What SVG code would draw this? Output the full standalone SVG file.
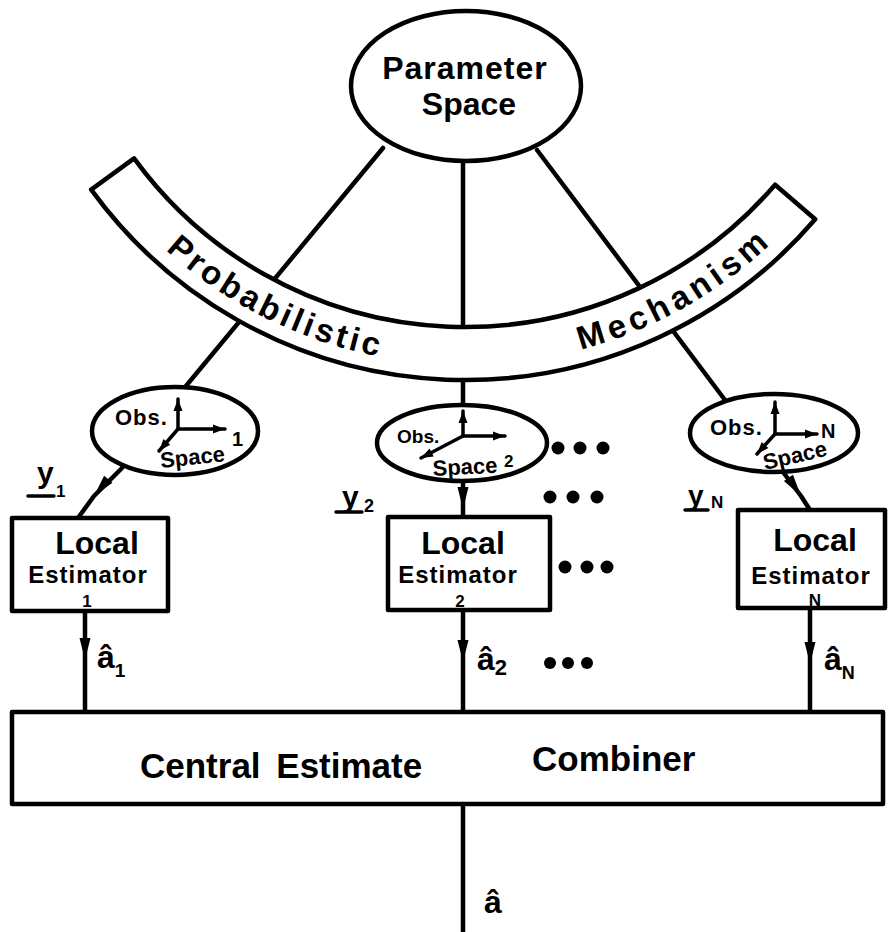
<svg xmlns="http://www.w3.org/2000/svg" width="888" height="932" viewBox="0 0 888 932">
  <style>
    .ln { fill: none; stroke: #000; stroke-width: 4.5; stroke-linecap: round; stroke-linejoin: round; }
    .ax { fill: none; stroke: #000; stroke-width: 3.5; stroke-linecap: round; }
    .shape { fill: #fff; stroke: #000; stroke-width: 4.5; stroke-linejoin: round; }
    .t { font-family: "Liberation Sans", Arial, sans-serif; font-weight: bold; fill: #000; }
    .big { font-size: 32px; }
    .mid { font-size: 24px; letter-spacing: 1px; }
    .sm { font-size: 22px; }
    .num { font-size: 20px; }
    .idx { font-size: 17px; }
    .band { font-size: 33px; }
    .dot { fill: #000; }
  </style>
  <defs>
    <!-- filled wedge placed mid-way along a signal line -->
    <marker id="wedge" markerUnits="userSpaceOnUse" viewBox="-24 -8 26 16" markerWidth="26" markerHeight="16" refX="0" refY="0" orient="auto">
      <path d="M-22,-5.5 L0,0 L-22,5.5 Z" fill="#000"/>
    </marker>
    <!-- small head for the coordinate axes -->
    <marker id="axhead" markerUnits="userSpaceOnUse" viewBox="-14 -6 15 12" markerWidth="15" markerHeight="12" refX="0" refY="0" orient="auto">
      <path d="M-12,-4.5 L0,0 L-12,4.5 Z" fill="#000"/>
    </marker>
    <!-- baseline for the lettering that follows the curved band -->
    <path id="bandBase" d="M77.9,141.5 A447,447 0 0 0 852.1,141.5"/>
  </defs>

  <!-- connectors -->
  <g id="connectors">
    <path class="ln" d="M383,148 L181,392"/>
    <path class="ln" d="M463,160 L463,408"/>
    <path class="ln" d="M537,150 L725,400"/>
    <path class="ln" d="M122,468 L94,496 L78,518" marker-mid="url(#wedge)"/>
    <path class="ln" d="M463,481 L463,509 L463,517" marker-mid="url(#wedge)"/>
    <path class="ln" d="M783,472 L801,496 L810,510" marker-mid="url(#wedge)"/>
    <path class="ln" d="M85,611 L85,660 L85,712" marker-mid="url(#wedge)"/>
    <path class="ln" d="M463,610 L463,662 L463,712" marker-mid="url(#wedge)"/>
    <path class="ln" d="M810,608 L810,664 L810,712" marker-mid="url(#wedge)"/>
    <path class="ln" d="M463,804 L463,932"/>
  </g>

  <!-- parameter space -->
  <g id="parameter-space">
    <ellipse class="shape" cx="466" cy="86" rx="115" ry="75"/>
    <text class="t big" x="465" y="79" text-anchor="middle" letter-spacing="1">Parameter</text>
    <text class="t big" x="469" y="115" text-anchor="middle">Space</text>
  </g>

  <!-- probabilistic mechanism band -->
  <g id="mechanism">
    <path class="shape" d="M134.1,158.4 A409,409 0 0 0 775.1,184.7 L815.2,219.3 A462,462 0 0 1 91.2,189.6 Z"/>
    <text class="t band" letter-spacing="3.5"><textPath href="#bandBase" startOffset="140">Probabilistic</textPath></text>
    <text class="t band" letter-spacing="4.8"><textPath href="#bandBase" startOffset="585">Mechanism</textPath></text>
  </g>

  <!-- observation spaces -->
  <g id="obs-1">
    <ellipse class="shape" cx="175" cy="431" rx="83" ry="44"/>
    <path class="ax" d="M178,429 L178,399" marker-end="url(#axhead)"/>
    <path class="ax" d="M178,429 L225,429" marker-end="url(#axhead)"/>
    <path class="ax" d="M178,429 L159,451" marker-end="url(#axhead)"/>
    <text class="t sm" x="115" y="425" letter-spacing="1">Obs.</text>
    <text class="t sm" x="161" y="468" transform="rotate(-6 161 468)">Space</text>
    <text class="t num" x="232" y="446">1</text>
  </g>
  <g id="obs-2">
    <ellipse class="shape" cx="462" cy="443" rx="85" ry="38"/>
    <path class="ax" d="M463,436 L463,411" marker-end="url(#axhead)"/>
    <path class="ax" d="M463,436 L505,436" marker-end="url(#axhead)"/>
    <path class="ax" d="M463,436 L421,458" marker-end="url(#axhead)"/>
    <text class="t" x="397" y="443" font-size="19">Obs.</text>
    <text class="t sm" x="433" y="476" transform="rotate(-3 433 476)">Space</text>
    <text class="t" x="504" y="467" font-size="17">2</text>
  </g>
  <g id="obs-n">
    <ellipse class="shape" cx="774" cy="433" rx="84" ry="39"/>
    <path class="ax" d="M775,434 L775,402" marker-end="url(#axhead)"/>
    <path class="ax" d="M775,434 L817,434" marker-end="url(#axhead)"/>
    <path class="ax" d="M775,434 L757,454" marker-end="url(#axhead)"/>
    <text class="t sm" x="710" y="435" letter-spacing="1">Obs.</text>
    <text class="t num" x="821" y="438">N</text>
    <text class="t sm" x="765" y="470" transform="rotate(-13 765 470)">Space</text>
  </g>

  <!-- observation vectors -->
  <g id="label-y1">
    <text class="t" x="37" y="483" font-size="30">y</text>
    <line class="ax" x1="28" y1="496" x2="54" y2="496"/>
    <text class="t idx" x="56" y="497">1</text>
  </g>
  <g id="label-y2">
    <text class="t" x="342" y="507" font-size="30">y</text>
    <line class="ax" x1="336" y1="512" x2="362" y2="512"/>
    <text class="t" x="364" y="512" font-size="18">2</text>
  </g>
  <g id="label-yn">
    <text class="t" x="688" y="505" font-size="28">y</text>
    <line class="ax" x1="685" y1="510" x2="708" y2="510"/>
    <text class="t idx" x="711" y="508">N</text>
  </g>

  <!-- local estimators -->
  <g id="estimator-1">
    <rect class="shape" x="12" y="518" width="156" height="93"/>
    <text class="t big" x="97" y="554" text-anchor="middle">Local</text>
    <text class="t mid" x="88" y="583" text-anchor="middle">Estimator</text>
    <text class="t idx" x="87" y="607" text-anchor="middle">1</text>
  </g>
  <g id="estimator-2">
    <rect class="shape" x="388" y="517" width="162" height="93"/>
    <text class="t big" x="463" y="554" text-anchor="middle">Local</text>
    <text class="t mid" x="458" y="583" text-anchor="middle">Estimator</text>
    <text class="t idx" x="460" y="607" text-anchor="middle">2</text>
  </g>
  <g id="estimator-n">
    <rect class="shape" x="738" y="510" width="147" height="98"/>
    <text class="t big" x="815" y="551" text-anchor="middle">Local</text>
    <text class="t mid" x="811" y="584" text-anchor="middle">Estimator</text>
    <text class="t idx" x="815" y="606" text-anchor="middle">N</text>
  </g>

  <!-- local estimates -->
  <g id="label-a1">
    <text class="t" x="97" y="668" font-size="32">â<tspan font-size="19" dy="9">1</tspan></text>
  </g>
  <g id="label-a2">
    <text class="t" x="477" y="670" font-size="32">â<tspan font-size="22" dy="5">2</tspan></text>
  </g>
  <g id="label-an">
    <text class="t" x="824" y="670" font-size="32">â<tspan font-size="18" dy="9">N</tspan></text>
  </g>

  <!-- ellipsis dots between channels -->
  <g id="dots">
    <circle class="dot" cx="558" cy="448" r="6.5"/>
    <circle class="dot" cx="580" cy="448" r="6.5"/>
    <circle class="dot" cx="603" cy="448" r="6.5"/>
    <circle class="dot" cx="550" cy="497" r="6.5"/>
    <circle class="dot" cx="573" cy="497" r="6.5"/>
    <circle class="dot" cx="597" cy="497" r="6.5"/>
    <circle class="dot" cx="565" cy="567" r="6.5"/>
    <circle class="dot" cx="587" cy="567" r="6.5"/>
    <circle class="dot" cx="607" cy="567" r="6.5"/>
    <circle class="dot" cx="550" cy="663" r="6"/>
    <circle class="dot" cx="568" cy="663" r="6"/>
    <circle class="dot" cx="587" cy="663" r="6"/>
  </g>

  <!-- central combiner -->
  <g id="combiner">
    <rect class="shape" x="12" y="712" width="871" height="92"/>
    <text class="t" x="140" y="778" font-size="35" word-spacing="6">Central Estimate</text>
    <text class="t" x="532" y="771" font-size="35">Combiner</text>
  </g>

  <!-- combined estimate -->
  <g id="label-a">
    <text class="t" x="484" y="913" font-size="32">â</text>
  </g>
</svg>
